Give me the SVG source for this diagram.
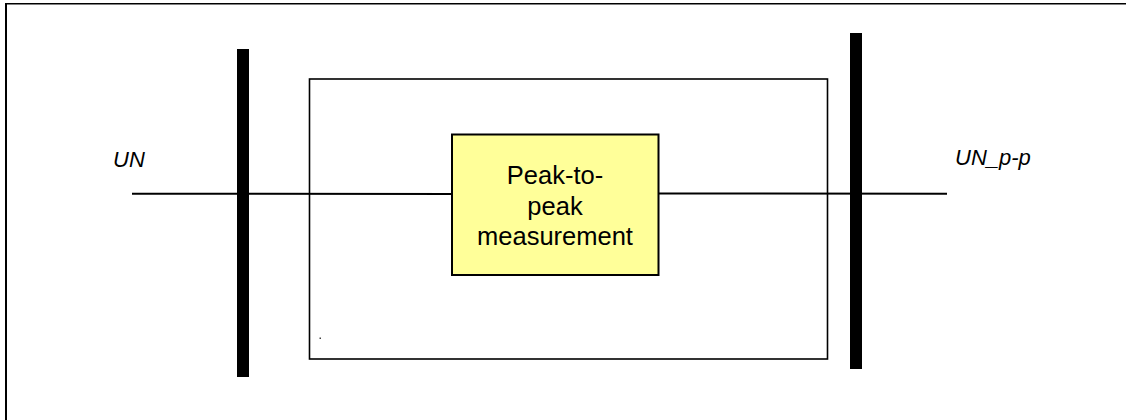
<svg xmlns="http://www.w3.org/2000/svg" width="1126" height="420" viewBox="0 0 1126 420">
<style>
.lbl{font-family:"Liberation Sans",Arial,sans-serif;font-style:italic;font-size:22px;fill:#000}
.box{font-family:"Liberation Sans",Arial,sans-serif;font-size:25.5px;fill:#000;text-anchor:middle}
.wire{stroke:#000;stroke-width:2;fill:none}
.bar{fill:#000}
</style>
<rect width="1126" height="420" fill="#fff"/>
<g id="frame">
<line x1="6" y1="3.5" x2="6" y2="420" stroke="#000" stroke-width="2"/>
<line x1="5" y1="3.8" x2="1126" y2="3.8" stroke="#000" stroke-width="1.5"/>
</g>
<g id="enclosure">
<rect x="309.5" y="79" width="518" height="280" fill="none" stroke="#000" stroke-width="1.6"/>
<rect x="319.5" y="337.5" width="1.5" height="1.5" fill="#444"/>
</g>
<g id="connectors">
<line class="wire" x1="132" y1="193.7" x2="452" y2="194"/>
<line class="wire" x1="658" y1="193.5" x2="947" y2="193.7"/>
</g>
<g id="bar-left"><rect class="bar" x="237" y="49" width="12" height="328"/></g>
<g id="bar-right"><rect class="bar" x="850" y="33" width="12" height="336"/></g>
<g id="peak">
<rect x="452" y="134.5" width="206.5" height="140.5" fill="#ffff99" stroke="#000" stroke-width="2"/>
<text class="box" x="555" y="184">Peak-to-</text>
<text class="box" x="555" y="214.5">peak</text>
<text class="box" x="555" y="245">measurement</text>
</g>
<g id="label-in"><text class="lbl" x="113" y="167">UN</text></g>
<g id="label-out"><text class="lbl" x="955" y="165">UN_p-p</text></g>
</svg>
